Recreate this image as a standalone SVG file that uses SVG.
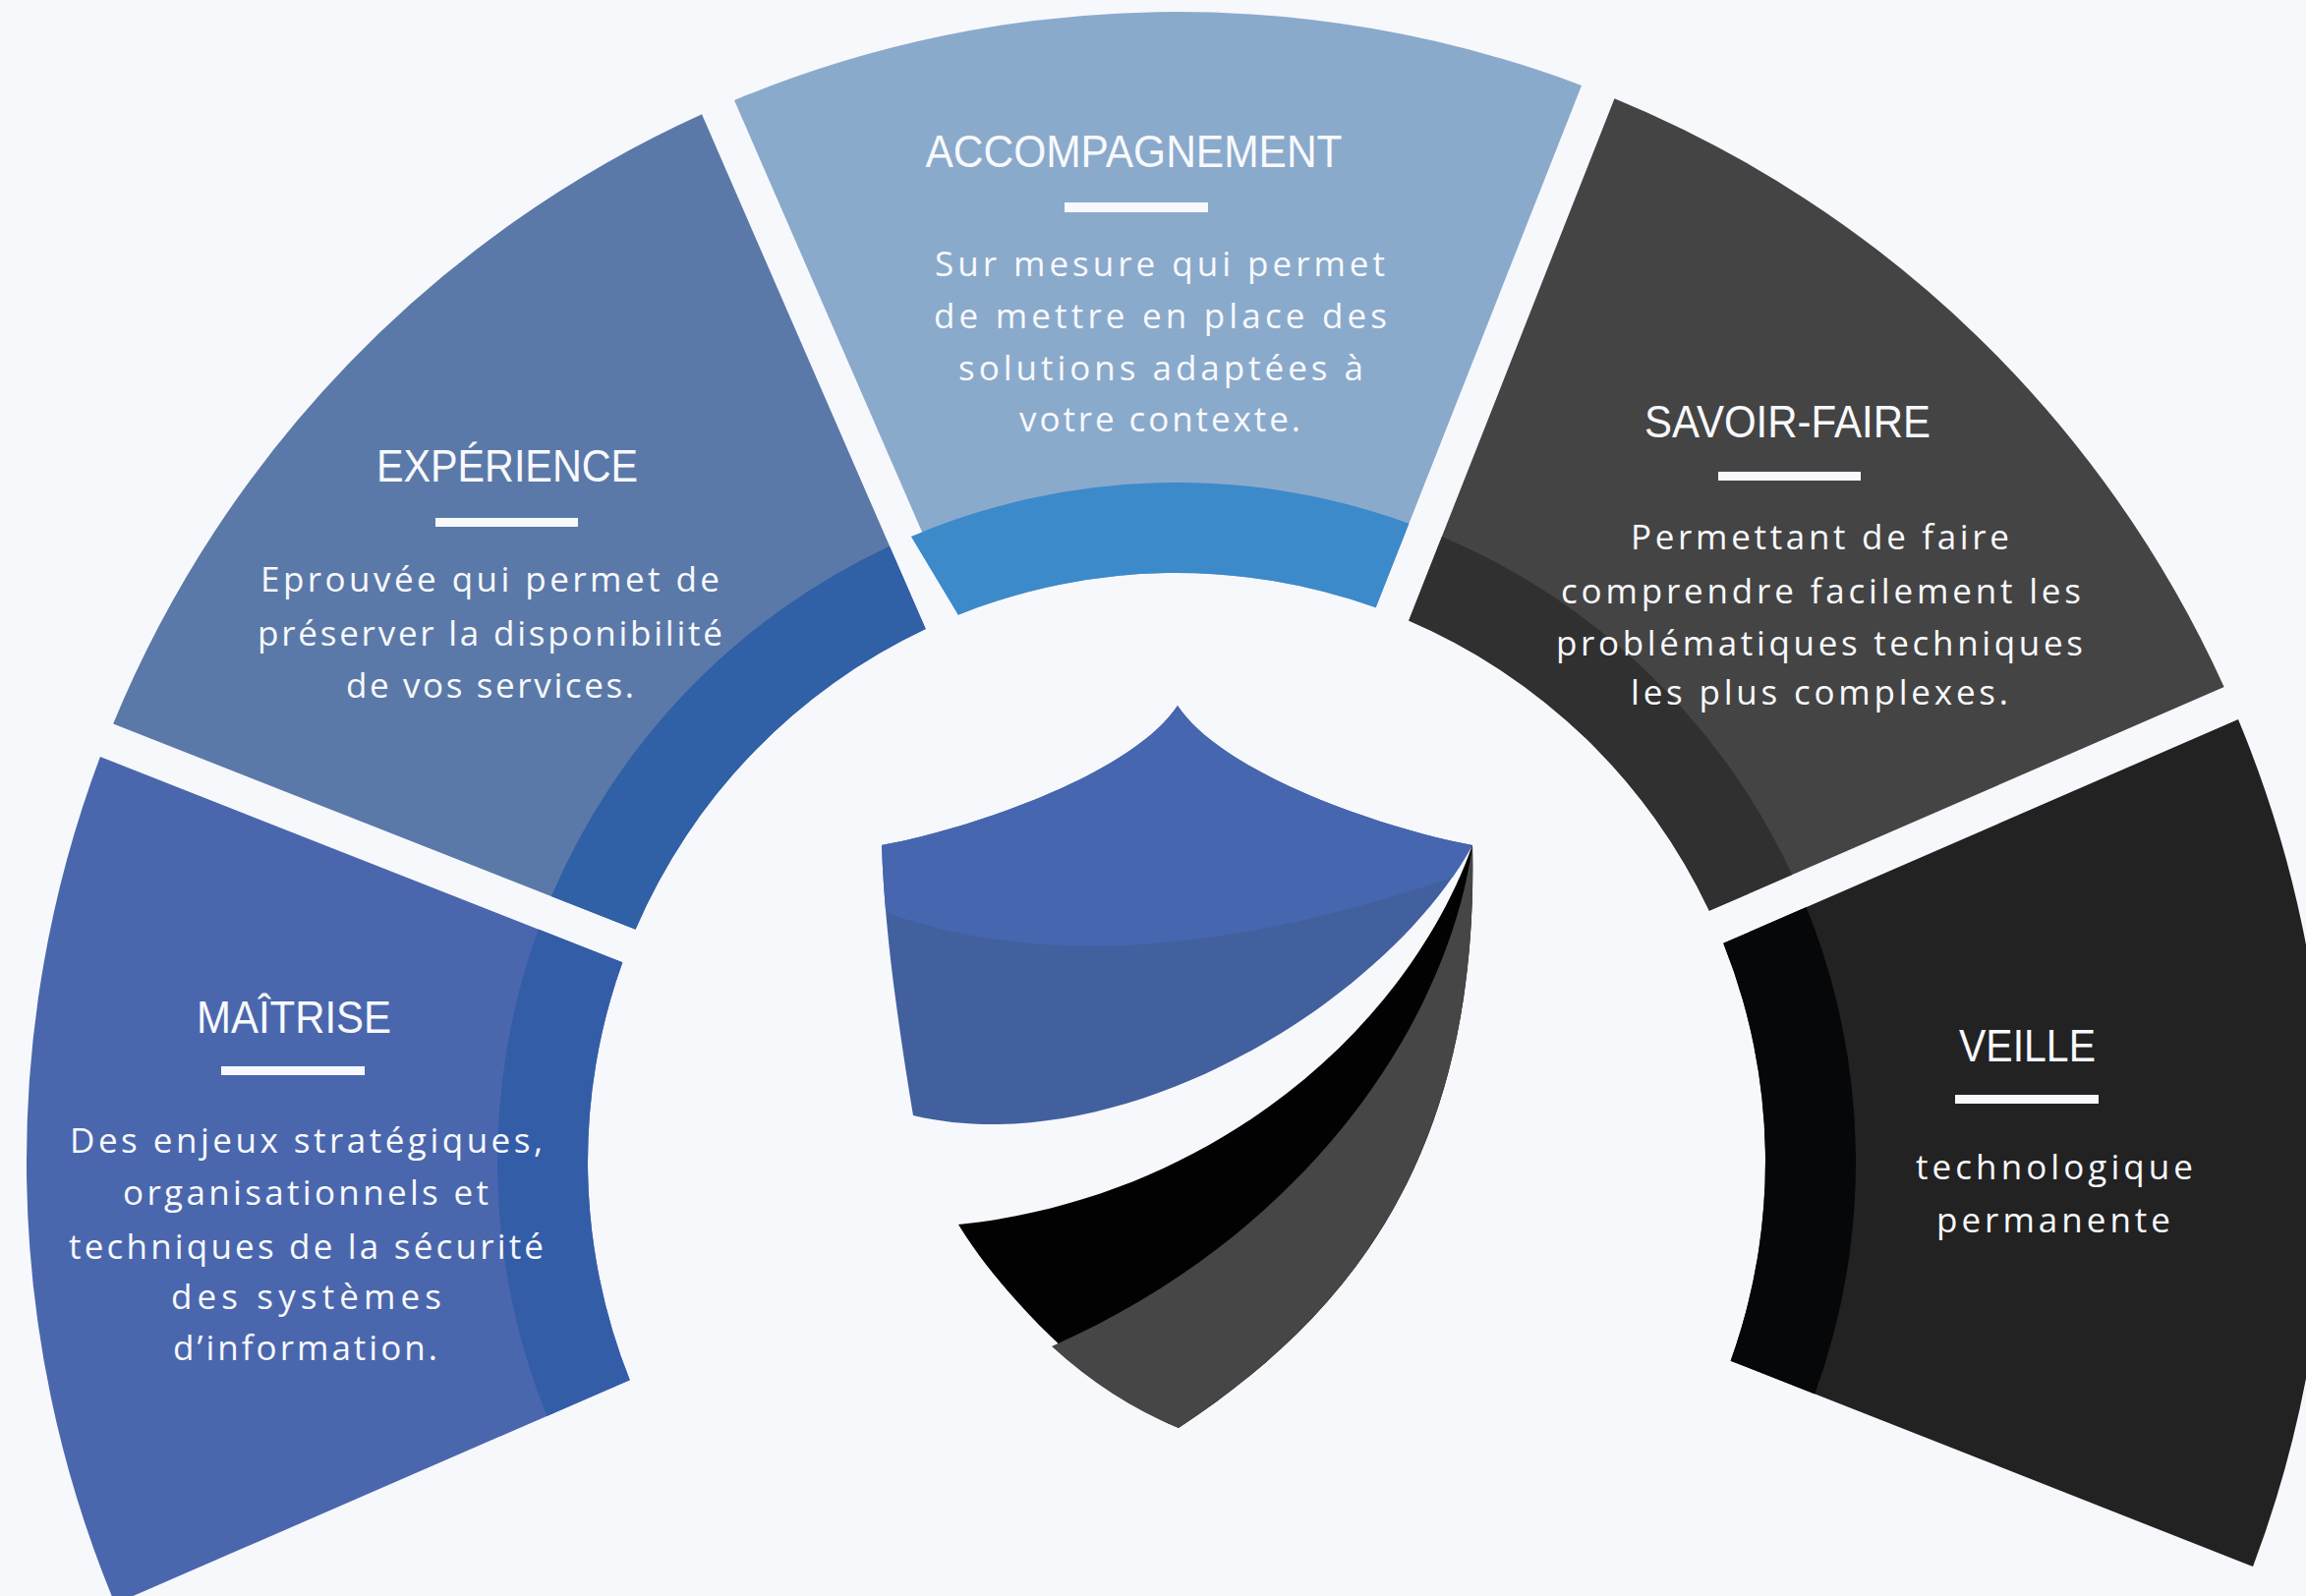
<svg xmlns="http://www.w3.org/2000/svg" width="2346" height="1624" viewBox="0 0 2346 1624">
<style>
.title{font-family:"Liberation Sans",Arial,sans-serif;font-size:46px;fill:#F8F9FC;text-anchor:middle}
.body{font-family:"Open Sans","Noto Sans",sans-serif;font-size:35px;fill:#F8F9FC;text-anchor:middle}
.bar{fill:#F8F9FC}
</style>
<defs>
<clipPath id="blueClip">
<path d="M897,860 C980,845 1150,790 1198,718 C1246,790 1416,845 1498,860 C1410,1020 1140,1185 929,1135 C915,1050 900,950 897,860 Z"/>
</clipPath>
</defs>
<rect x="0" y="0" width="2346" height="1624" fill="#F7F8FC"/>

<g id="maitrise">
<path d="M101.95,769.98 A1170,1170 0 0 0 117.0,1632.0 L640.75,1404.24 A599,599 0 0 1 633.34,979.31 Z" fill="#4A67AE"/>
<path d="M547.70,945.59 A691,691 0 0 0 556.35,1440.93 L640.75,1404.24 A599,599 0 0 1 633.34,979.31 Z" fill="#345DA8"/>
<text class="title" x="299" y="1051" textLength="198" lengthAdjust="spacingAndGlyphs">MAÎTRISE</text>
<rect class="bar" x="225" y="1085" width="146" height="9"/>
<text class="body" x="311.5" y="1173" textLength="481" lengthAdjust="spacing">Des enjeux stratégiques,</text>
<text class="body" x="311" y="1226" textLength="372" lengthAdjust="spacing">organisationnels et</text>
<text class="body" x="311.5" y="1281" textLength="483" lengthAdjust="spacing">techniques de la sécurité</text>
<text class="body" x="311.5" y="1332" textLength="275" lengthAdjust="spacing">des systèmes</text>
<text class="body" x="310.5" y="1384" textLength="269" lengthAdjust="spacing">d’information.</text>
</g>

<g id="experience">
<path d="M714.02,116.33 A1170,1170 0 0 0 115.14,736.50 L646.53,945.82 A599,599 0 0 1 941.75,640.11 Z" fill="#5B79A8"/>
<path d="M905.05,555.70 A691,691 0 0 0 560.90,912.08 L646.53,945.82 A599,599 0 0 1 941.75,640.11 Z" fill="#3060A6"/>
<text class="title" x="516" y="490" textLength="266" lengthAdjust="spacingAndGlyphs">EXPÉRIENCE</text>
<rect class="bar" x="443" y="527" width="145" height="9"/>
<text class="body" x="498.5" y="602" textLength="467" lengthAdjust="spacing">Eprouvée qui permet de</text>
<text class="body" x="498.5" y="657" textLength="473" lengthAdjust="spacing">préserver la disponibilité</text>
<text class="body" x="498.5" y="710" textLength="293" lengthAdjust="spacing">de vos services.</text>
</g>

<g id="accompagnement">
<path d="M1609.02,86.95 A1170,1170 0 0 0 747.02,102.0 L974.76,625.75 A599,599 0 0 1 1399.69,618.34 Z" fill="#8AAACC"/>
<path d="M1433.41,532.70 A691,691 0 0 0 926.93,545.97 L974.76,625.75 A599,599 0 0 1 1399.69,618.34 Z" fill="#3C8ACA"/>
<text class="title" x="1153.5" y="170" textLength="424" lengthAdjust="spacingAndGlyphs">ACCOMPAGNEMENT</text>
<rect class="bar" x="1083" y="206" width="146" height="10"/>
<text class="body" x="1180" y="281" textLength="458" lengthAdjust="spacing">Sur mesure qui permet</text>
<text class="body" x="1180.5" y="334" textLength="461" lengthAdjust="spacing">de mettre en place des</text>
<text class="body" x="1181" y="387" textLength="412" lengthAdjust="spacing">solutions adaptées à</text>
<text class="body" x="1180" y="439" textLength="286" lengthAdjust="spacing">votre contexte.</text>
</g>

<g id="savoir-faire">
<path d="M2262.67,699.02 A1170,1170 0 0 0 1642.50,100.14 L1433.18,631.53 A599,599 0 0 1 1738.89,926.75 Z" fill="#444444"/>
<path d="M1823.30,890.05 A691,691 0 0 0 1466.92,545.90 L1433.18,631.53 A599,599 0 0 1 1738.89,926.75 Z" fill="#303030"/>
<text class="title" x="1818.5" y="445" textLength="291" lengthAdjust="spacingAndGlyphs">SAVOIR-FAIRE</text>
<rect class="bar" x="1748" y="480" width="145" height="9"/>
<text class="body" x="1851.5" y="559" textLength="385" lengthAdjust="spacing">Permettant de faire</text>
<text class="body" x="1852.5" y="614" textLength="529" lengthAdjust="spacing">comprendre facilement les</text>
<text class="body" x="1851" y="667" textLength="536" lengthAdjust="spacing">problématiques techniques</text>
<text class="body" x="1851" y="717" textLength="384" lengthAdjust="spacing">les plus complexes.</text>
</g>

<g id="veille">
<path d="M2292.05,1594.02 A1170,1170 0 0 0 2277.0,732.0 L1753.25,959.76 A599,599 0 0 1 1760.66,1384.69 Z" fill="#222222"/>
<path d="M1846.30,1418.41 A691,691 0 0 0 1837.65,923.07 L1753.25,959.76 A599,599 0 0 1 1760.66,1384.69 Z" fill="#060709"/>
<text class="title" x="2062.5" y="1080" textLength="139" lengthAdjust="spacingAndGlyphs">VEILLE</text>
<rect class="bar" x="1989" y="1114" width="146" height="9"/>
<text class="body" x="2090" y="1200" textLength="282" lengthAdjust="spacing">technologique</text>
<text class="body" x="2089" y="1254" textLength="238" lengthAdjust="spacing">permanente</text>
</g>

<g id="shield">
<path d="M897,860 C980,845 1150,790 1198,718 C1246,790 1416,845 1498,860 C1410,1020 1140,1185 929,1135 C915,1050 900,950 897,860 Z" fill="#42609E"/>
<path clip-path="url(#blueClip)" d="M880,920 Q1120,1020 1500,885 L1500,700 L880,700 Z" fill="#4666B0"/>
<path d="M1498,860 C1430,1050 1230,1220 975,1246 C1020,1320 1120,1420 1199,1453 C1370,1340 1505,1180 1498,860 Z" fill="#020202"/>
<path d="M1070,1370 Q1130,1425 1199,1453 C1370,1340 1505,1180 1498,860 C1475,1030 1340,1250 1070,1370 Z" fill="#464646"/>
</g>

<g id="connectors"></g>
</svg>
